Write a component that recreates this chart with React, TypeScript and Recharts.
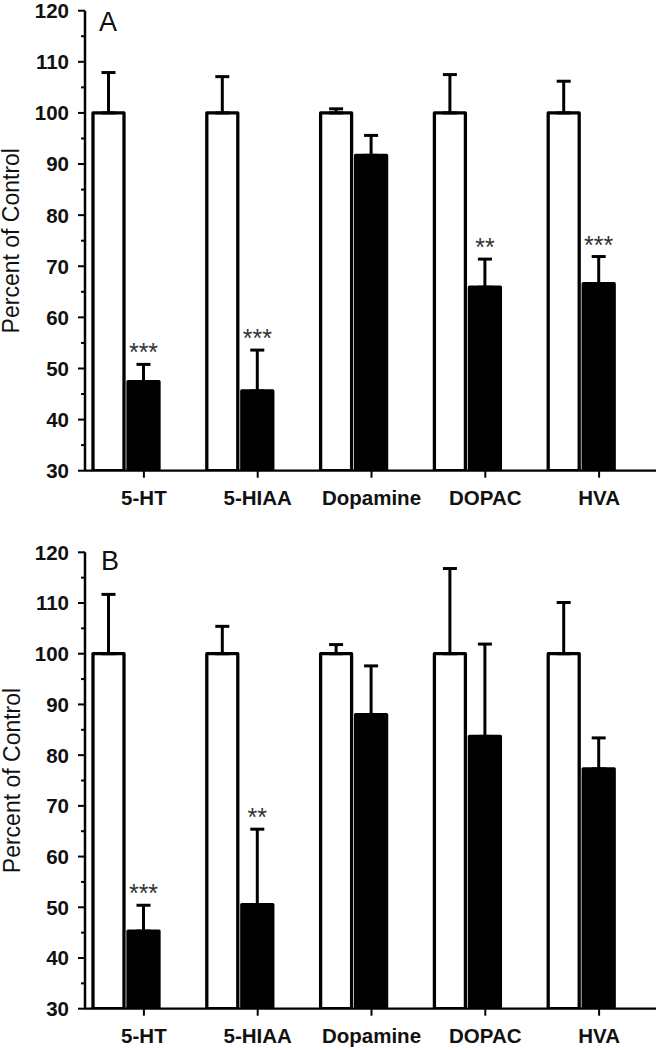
import React from 'react';
import { BarChart, Bar, XAxis, YAxis, ErrorBar } from 'recharts';

const categories = ['5-HT', '5-HIAA', 'Dopamine', 'DOPAC', 'HVA'];
const yTicks = [30, 35, 40, 45, 50, 55, 60, 65, 70, 75, 80, 85, 90, 95, 100, 105, 110, 115, 120];
const yLabelTicks = [30, 40, 50, 60, 70, 80, 90, 100, 110, 120];

const controlA = [100, 100, 100, 100, 100];
const controlErrA = [7.9, 7.1, 0.8, 7.5, 6.2];
const treatedA = [47.4, 45.6, 91.7, 65.9, 66.6];
const treatedErrA = [3.4, 8.0, 3.9, 5.5, 5.3];
const starsA = ['***', '***', '', '**', '***'];

const controlB = [100, 100, 100, 100, 100];
const controlErrB = [11.7, 5.4, 1.8, 16.8, 10.1];
const treatedB = [45.3, 50.5, 88.0, 83.7, 77.3];
const treatedErrB = [5.1, 14.9, 9.6, 18.2, 6.1];
const starsB = ['***', '**', '', '', ''];

const FONT = '"Liberation Sans", Arial, Helvetica, sans-serif';

const build = (ctrl: number[], ctrlErr: number[], trt: number[], trtErr: number[]) =>
  categories.map((name, i) => ({
    name,
    control: ctrl[i],
    controlErr: [0, ctrlErr[i]],
    treated: trt[i],
    treatedErr: [0, trtErr[i]],
  }));

const dataA = build(controlA, controlErrA, treatedA, treatedErrA);
const dataB = build(controlB, controlErrB, treatedB, treatedErrB);

const YTick = (props: any) => {
  const { x, y, payload } = props;
  const v = payload.value;
  const major = yLabelTicks.includes(v);
  return (
    <g>
      <line x1={x - (major ? 7 : 4)} x2={x} y1={y} y2={y} stroke="#000" strokeWidth={2} />
      {major && (
        <text x={x - 16} y={y} dy="0.36em" textAnchor="end" fontSize={20.5} fontWeight="bold" fill="#111" fontFamily={FONT}>
          {v}
        </text>
      )}
    </g>
  );
};

const XTick = (props: any) => {
  const { x, y, payload } = props;
  return (
    <g>
      <line x1={x} x2={x} y1={y} y2={y + 7} stroke="#000" strokeWidth={2} />
      <text x={x} y={y + 20} dy="0.716em" textAnchor="middle" fontSize={20.5} fontWeight="bold" fill="#111" fontFamily={FONT}>
        {payload.value}
      </text>
    </g>
  );
};

const makeStarLabel = (stars: string[], errs: number[]) => (props: any) => {
  const vb = props.viewBox || {};
  const x = props.x ?? vb.x;
  const y = props.y ?? vb.y;
  const width = props.width ?? vb.width;
  const height = props.height ?? vb.height;
  const value = Number(props.value);
  const index = props.index;
  const s = stars[index];
  if (!s) return null;
  const ppu = height / (value - 30);
  const top = y - errs[index] * ppu;
  return (
    <text x={x + width / 2} y={top - 3} textAnchor="middle" fontSize={25} fill="#333" fontFamily={FONT}>
      {s}
    </text>
  );
};

const TitleLabel = (props: any) => {
  const vb = props.viewBox || {};
  const cy = vb.y + vb.height / 2;
  const tx = 19.5;
  return (
    <text x={tx} y={cy} transform={`rotate(-90, ${tx}, ${cy})`} textAnchor="middle" fontSize={23} fill="#111" fontFamily={FONT}>
      Percent of Control
    </text>
  );
};

const Panel = ({ data, stars, errs, height, top, xHeight }: any) => (
  <BarChart
    width={661}
    height={height}
    data={data}
    margin={{ top, right: 5, left: 0, bottom: 0 }}
    barGap={4}
  >
    <XAxis
      dataKey="name"
      axisLine={{ stroke: '#000', strokeWidth: 2.2 }}
      tickLine={false}
      tickSize={0}
      tickMargin={0}
      tick={<XTick />}
      interval={0}
      height={xHeight}
      padding={{ left: 2, right: 0 }}
    />
    <YAxis
      type="number"
      domain={[30, 120]}
      ticks={yTicks}
      interval={0}
      width={85}
      axisLine={{ stroke: '#000', strokeWidth: 2.5 }}
      tickLine={false}
      tickSize={0}
      tickMargin={0}
      tick={<YTick />}
      allowDataOverflow
      label={<TitleLabel />}
    />
    <Bar dataKey="control" barSize={31} fill="#fff" stroke="#000" strokeWidth={3.3} strokeLinejoin="round" isAnimationActive={false}>
      <ErrorBar dataKey="controlErr" width={7} strokeWidth={3} stroke="#000" direction="y" />
    </Bar>
    <Bar
      dataKey="treated"
      barSize={31}
      fill="#000"
      stroke="#000"
      strokeWidth={3.3}
      strokeLinejoin="round"
      isAnimationActive={false}
      label={makeStarLabel(stars, errs)}
    >
      <ErrorBar dataKey="treatedErr" width={7} strokeWidth={3} stroke="#000" direction="y" />
    </Bar>
    <Bar dataKey="pad" barSize={31} fill="none" isAnimationActive={false} />
  </BarChart>
);

export default function App() {
  return (
    <div style={{ position: 'absolute', left: 0, top: 0, width: 661, height: 1050, background: '#fff' }}>
      <div style={{ position: 'absolute', left: 0, top: 0 }}>
        <Panel data={dataA} stars={starsA} errs={treatedErrA} height={520} top={10.7} xHeight={49.3} />
      </div>
      <div style={{ position: 'absolute', left: 0, top: 520 }}>
        <Panel data={dataB} stars={starsB} errs={treatedErrB} height={530} top={32.3} xHeight={41.3} />
      </div>
      <svg width={661} height={1050} style={{ position: 'absolute', left: 0, top: 0, pointerEvents: 'none' }}>
        <text x={99} y={31} fontSize={27} fill="#111" fontFamily={FONT}>A</text>
        <text x={101} y={569.5} fontSize={27} fill="#111" fontFamily={FONT}>B</text>
      </svg>
    </div>
  );
}
